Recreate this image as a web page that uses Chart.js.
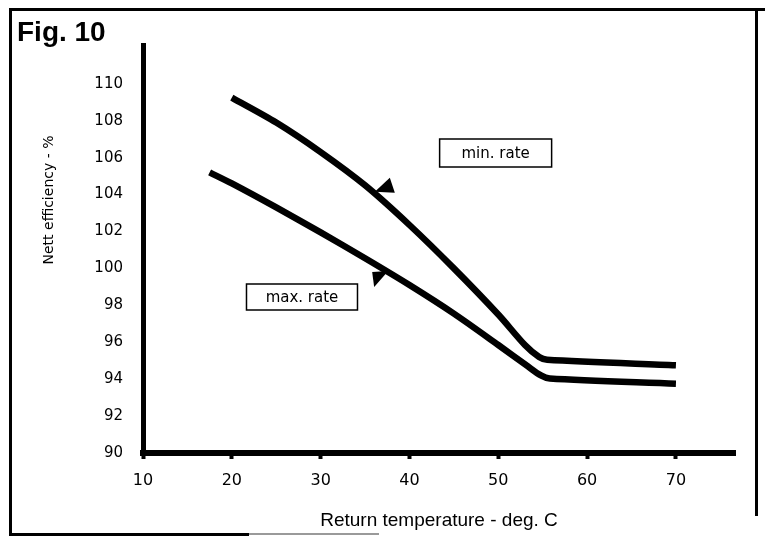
<!DOCTYPE html>
<html>
<head>
<meta charset="utf-8">
<script src="https://cdn.jsdelivr.net/npm/chart.js@4.4.0/dist/chart.umd.min.js"></script>
<style>
  html, body { margin: 0; padding: 0; background: #fff; }
  #wrap { width: 765px; height: 540px; position: relative; }
</style>
</head>
<body>
<div id="wrap"><canvas id="fig10" width="765" height="540"></canvas></div>
<script>
// Return temperature (deg. C) and nett efficiency (%)
var minRateTemp = [20, 25, 30, 35, 40, 45, 50, 53, 54.6, 55.5, 70];
var minRateEff = [109.25, 107.9, 106.3, 104.5, 102.35, 100.0, 97.5, 95.85, 95.2, 95.05, 94.75];

var maxRateTemp = [17.5, 20, 25, 30, 35, 40, 45, 50, 53.3, 54.8, 55.8, 70];
var maxRateEff = [105.2, 104.6, 103.3, 101.95, 100.55, 99.1, 97.55, 95.85, 94.7, 94.2, 94.03, 93.75];

var xTicks = [10, 20, 30, 40, 50, 60, 70];
var yTicks = [90, 92, 94, 96, 98, 100, 102, 104, 106, 108, 110];

// label boxes and arrow tips, in data units
var labels = [
    { text: 'min. rate', x: 49.7, y: 106.25, w: 112, h: 28 },
    { text: 'max. rate', x: 27.9, y: 98.45, w: 111, h: 26 }
];
var arrows = [
    { x: 36.1, y: 104.15, pts: [[0, 0], [15, -14], [20, 1]] },
    { x: 35.8, y: 99.8, pts: [[0, 0], [16, -1], [2, 15]] }
];

function toPoints(xs, ys) {
    return xs.map(function (x, i) { return { x: x, y: ys[i] }; });
}

var extras = {
    id: 'extras',
    beforeDraw: function (chart) {
        var ctx = chart.ctx;
        ctx.save();
        ctx.fillStyle = '#fff';
        ctx.fillRect(0, 0, chart.width, chart.height);
        // outer frame
        ctx.fillStyle = '#000';
        ctx.fillRect(9, 8, 756, 3);
        ctx.fillRect(9, 8, 3, 528);
        ctx.fillRect(755, 8, 3, 508);
        ctx.fillRect(9, 533, 240, 3);
        ctx.fillStyle = '#9a9a9a';
        ctx.fillRect(249, 533, 130, 2);
        ctx.restore();
    },
    afterDraw: function (chart) {
        var ctx = chart.ctx;
        var xs = chart.scales.x, ys = chart.scales.y;
        ctx.save();
        ctx.fillStyle = '#000';
        ctx.textBaseline = 'alphabetic';
        ctx.textAlign = 'left';
        ctx.font = 'bold 28px "Liberation Sans", Arial, sans-serif';
        ctx.fillText('Fig. 10', 17, 41);

        // y axis title
        ctx.save();
        ctx.translate(49, 200);
        ctx.rotate(-Math.PI / 2);
        ctx.textAlign = 'center';
        ctx.textBaseline = 'middle';
        ctx.font = '14px "DejaVu Sans", sans-serif';
        ctx.fillText('Nett efficiency - %', 0, 0);
        ctx.restore();

        // label boxes
        ctx.font = '15px "DejaVu Sans", sans-serif';
        ctx.textAlign = 'center';
        ctx.textBaseline = 'middle';
        ctx.lineWidth = 1.5;
        labels.forEach(function (l) {
            var cx = xs.getPixelForValue(l.x), cy = ys.getPixelForValue(l.y);
            ctx.strokeRect(cx - l.w / 2, cy - l.h / 2, l.w, l.h);
            ctx.fillText(l.text, cx, cy + 1);
        });

        // arrow heads
        arrows.forEach(function (a) {
            var px = xs.getPixelForValue(a.x), py = ys.getPixelForValue(a.y);
            ctx.beginPath();
            a.pts.forEach(function (p, i) {
                if (i === 0) ctx.moveTo(px + p[0], py + p[1]);
                else ctx.lineTo(px + p[0], py + p[1]);
            });
            ctx.closePath();
            ctx.fill();
        });
        ctx.restore();
    }
};

var lineStyle = {
    borderColor: '#000',
    borderWidth: 6.5,
    pointRadius: 0,
    fill: false,
    showLine: true,
    tension: 0.3,
    borderJoinStyle: 'round',
    borderCapStyle: 'butt'
};

new Chart(document.getElementById('fig10'), {
    type: 'scatter',
    data: {
        datasets: [
            Object.assign({ label: 'min. rate', data: toPoints(minRateTemp, minRateEff) }, lineStyle),
            Object.assign({ label: 'max. rate', data: toPoints(maxRateTemp, maxRateEff) }, lineStyle)
        ]
    },
    options: {
        responsive: false,
        animation: false,
        devicePixelRatio: 1,
        layout: { padding: { left: 0, top: 45, right: 30, bottom: 0 } },
        plugins: {
            legend: { display: false },
            tooltip: { enabled: false }
        },
        scales: {
            x: {
                type: 'linear',
                min: 10,
                max: 76.65,
                afterFit: function (s) { s.height = 87; },
                afterBuildTicks: function (s) {
                    s.ticks = xTicks.map(function (v) { return { value: v }; });
                },
                border: { display: true, color: '#000', width: 6 },
                grid: {
                    display: true,
                    drawOnChartArea: false,
                    drawTicks: true,
                    tickLength: 6,
                    tickWidth: 4,
                    tickColor: '#000'
                },
                ticks: {
                    color: '#000',
                    padding: 12,
                    font: { family: '"DejaVu Sans", sans-serif', size: 16 }
                },
                title: {
                    display: true,
                    text: 'Return temperature - deg. C',
                    color: '#000',
                    font: { family: '"Liberation Sans", Arial, sans-serif', size: 19 },
                    padding: { top: 0, bottom: 8 }
                }
            },
            y: {
                type: 'linear',
                min: 90,
                max: 112.1,
                afterFit: function (s) { s.width = 143; },
                afterBuildTicks: function (s) {
                    s.ticks = yTicks.map(function (v) { return { value: v }; });
                },
                border: { display: true, color: '#000', width: 5 },
                grid: { display: false, drawTicks: false },
                ticks: {
                    color: '#000',
                    padding: 20,
                    font: { family: '"DejaVu Sans", sans-serif', size: 15 }
                }
            }
        }
    },
    plugins: [extras]
});
</script>
</body>
</html>
